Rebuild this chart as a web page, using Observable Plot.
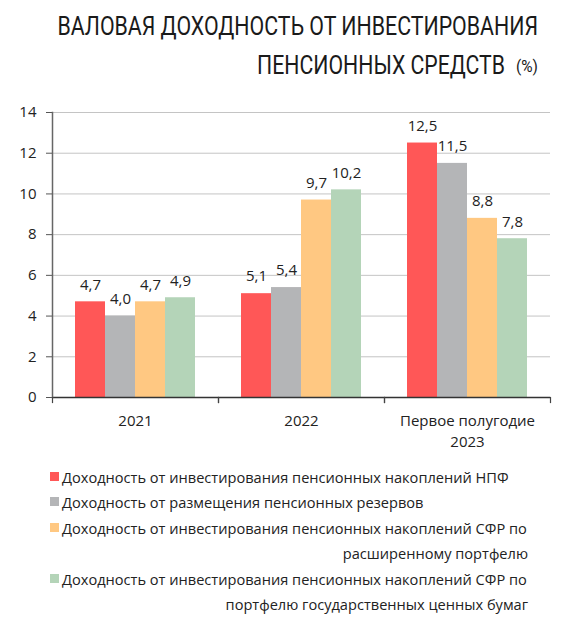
<!DOCTYPE html>
<html>
<head>
<meta charset="utf-8">
<script src="https://cdn.jsdelivr.net/npm/d3@7"></script>
<script src="https://cdn.jsdelivr.net/npm/@observablehq/plot@0.6"></script>
<style>
  body { margin: 0; background: #fff; width: 568px; }
  #title { display: block; }
  #chart { height: 360px; }
  #legend { position: relative; height: 180px; font-family: "Open Sans", sans-serif; font-size: 14.6px; color: #222; }
  .sw { position: absolute; left: 50px; width: 9px; height: 9px; }
  .ln { position: absolute; white-space: nowrap; line-height: 20px; }
</style>
</head>
<body>
<svg id="title" width="568" height="95" xmlns="http://www.w3.org/2000/svg"></svg>
<div id="chart"></div>
<div id="legend"></div>
<script>
const titleLine1 = "ВАЛОВАЯ ДОХОДНОСТЬ ОТ ИНВЕСТИРОВАНИЯ";
const titleLine2 = "ПЕНСИОННЫХ СРЕДСТВ";
const titleUnit = "(%)";

const groups = ["2021", "2022", "Первое полугодие\n2023"];
const series = [
  "Доходность от инвестирования пенсионных накоплений НПФ",
  "Доходность от размещения пенсионных резервов",
  "Доходность от инвестирования пенсионных накоплений СФР по расширенному портфелю",
  "Доходность от инвестирования пенсионных накоплений СФР по портфелю государственных ценных бумаг"
];
const legendLines = [
  ["Доходность от инвестирования пенсионных накоплений НПФ"],
  ["Доходность от размещения пенсионных резервов"],
  ["Доходность от инвестирования пенсионных накоплений СФР по", "расширенному портфелю"],
  ["Доходность от инвестирования пенсионных накоплений СФР по", "портфелю государственных ценных бумаг"]
];
const npfValues = [4.7, 5.1, 12.5];
const reserveValues = [4.0, 5.4, 11.5];
const sfrExtendedValues = [4.7, 9.7, 8.8];
const sfrGovValues = [4.9, 10.2, 7.8];
const colors = ["#FF5757", "#B4B5B7", "#FFC882", "#B4D4B8"];
const yTicks = [0, 2, 4, 6, 8, 10, 12, 14];

const seriesValues = [npfValues, reserveValues, sfrExtendedValues, sfrGovValues];
const data = groups.flatMap((g, i) => seriesValues.map((arr, j) => ({group: g, series: series[j], value: arr[i]})));
const fmt = v => v.toFixed(1).replace(".", ",");

// Title (condensed look: measured and horizontally scaled to fit)
const NS = "http://www.w3.org/2000/svg";
const tsvg = document.getElementById("title");
function addText(txt, x, y, size, len) {
  const t = document.createElementNS(NS, "text");
  t.setAttribute("x", x); t.setAttribute("y", y);
  t.setAttribute("text-anchor", "end");
  t.setAttribute("font-family", "Roboto, 'Liberation Sans', sans-serif");
  t.setAttribute("font-size", size);
  t.setAttribute("fill", "#1a1a1a");
  t.textContent = txt;
  tsvg.appendChild(t);
  const w = t.getComputedTextLength();
  if (w > 0) {
    const s = len / w;
    t.setAttribute("transform", `translate(${x},0) scale(${s},1) translate(${-x},0)`);
  }
}
addText(titleLine1, 538, 35, 26, 481);
addText(titleLine2, 505, 74, 26, 248);
addText(titleUnit, 538, 72, 17, 22);

// Chart
const chart = Plot.plot({
  width: 568,
  height: 360,
  marginTop: 17,
  marginBottom: 58,
  marginLeft: 52,
  marginRight: 18,
  style: {fontFamily: "'Open Sans', sans-serif", fontSize: "14px", color: "#222", background: "#fff"},
  fx: {domain: groups, padding: 0, label: null, axis: null},
  x: {domain: series, axis: null, paddingInner: 0, paddingOuter: 0.74},
  y: {domain: [0, 14], axis: null, label: null},
  color: {domain: series, range: colors},
  marks: [
    Plot.gridY(yTicks, {stroke: "#c4c4c4", strokeOpacity: 1, strokeWidth: 1}),
    Plot.barY(data, {fx: "group", x: "series", y: "value", fill: "series"}),
    Plot.text(data, {fx: "group", x: "series", y: "value", text: d => fmt(d.value), dy: -17, fontSize: 15, fill: "#222"}),
    Plot.ruleY([0], {stroke: "#333", strokeWidth: 1.5}),
    Plot.frame({anchor: "left", facetAnchor: "left", stroke: "#666", strokeWidth: 1.5}),
    Plot.frame({anchor: "left", insetTop: 285, insetBottom: -5, stroke: "#444", strokeWidth: 1.2}),
    Plot.frame({anchor: "right", insetTop: 285, insetBottom: -5, stroke: "#444", strokeWidth: 1.2}),
    Plot.axisY(yTicks, {anchor: "left", tickSize: 6, tickPadding: 10, fontSize: 15, stroke: "#555", fill: "#222", label: null}),
    Plot.axisFx({anchor: "bottom", tickSize: 0, tickPadding: 14, fontSize: 15, lineHeight: 1.4, fill: "#222", label: null})
  ]
});
document.getElementById("chart").appendChild(chart);

// Legend
const legend = document.getElementById("legend");
const lineTops = [[12], [37], [63, 88], [114, 139]];
legendLines.forEach((lines, j) => {
  const sw = document.createElement("div");
  sw.className = "sw";
  sw.style.top = (lineTops[j][0] + 5) + "px";
  sw.style.background = colors[j];
  legend.appendChild(sw);
  lines.forEach((txt, k) => {
    const d = document.createElement("div");
    d.className = "ln";
    d.textContent = txt;
    d.style.top = lineTops[j][k] + "px";
    if (k === 0) d.style.left = "62px"; else d.style.right = "40px";
    legend.appendChild(d);
  });
});
</script>
</body>
</html>
